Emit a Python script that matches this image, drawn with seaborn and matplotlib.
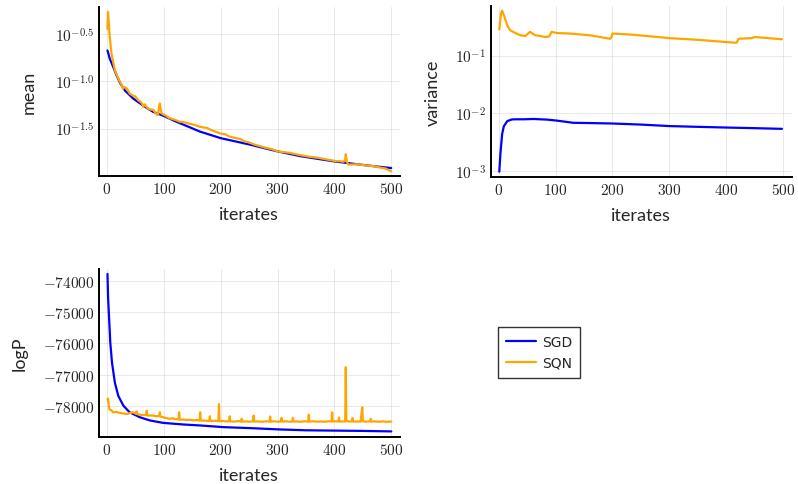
import matplotlib
matplotlib.use("Agg")
import matplotlib.pyplot as plt
import pandas as pd
import seaborn as sns
from matplotlib.ticker import FixedLocator, FuncFormatter, NullLocator

# ---- data ----
# mean, SGD
mean_sgd_it = [1, 5, 11, 17, 23, 32, 46, 64, 81, 100, 122, 146, 163, 200, 252, 300, 340, 400,
               457, 500]
mean_sgd = [0.211, 0.173, 0.1416, 0.1153, 0.0961, 0.0793, 0.0658, 0.0551, 0.0476, 0.0430,
            0.0374, 0.0326, 0.0295, 0.0251, 0.0214, 0.0182, 0.0162, 0.01426, 0.01294, 0.01213]
# mean, SQN
mean_sqn_it = [1, 2, 3, 5, 8, 14, 20, 26, 28, 30, 35, 40, 46, 50, 55, 60, 63, 64, 66, 72, 78,
               81, 86, 88, 90, 91, 93, 96, 103, 110, 118, 128, 137, 146, 155, 163, 170, 176,
               183, 190, 200, 208, 215, 225, 234, 242, 250, 260, 270, 280, 290, 300, 320, 340,
               355, 370, 385, 400, 410, 416, 419, 420, 422, 425, 440, 457, 470, 480, 490, 500]
mean_sqn = [0.356, 0.537, 0.436, 0.292, 0.195, 0.130, 0.1067, 0.0908, 0.0830, 0.0871, 0.0838,
            0.0741, 0.0702, 0.0690, 0.0630, 0.0600, 0.0560, 0.0537, 0.0570, 0.0516, 0.0500,
            0.0501, 0.0460, 0.0440, 0.0445, 0.0500, 0.0582, 0.0457, 0.0435, 0.0407, 0.0395,
            0.0374, 0.0368, 0.0355, 0.0345, 0.0331, 0.0325, 0.0322, 0.0306, 0.0295, 0.0280,
            0.0276, 0.0262, 0.0252, 0.0246, 0.0232, 0.0226, 0.0214, 0.0206, 0.0198, 0.0192,
            0.0182, 0.0176, 0.0166, 0.0160, 0.0156, 0.0150, 0.01445, 0.01430, 0.01413, 0.0150,
            0.0170, 0.0140, 0.0132, 0.0133, 0.0129, 0.0127, 0.0123, 0.0120, 0.0112]

# variance, SGD
var_sgd_it = [1, 3, 6, 9, 15, 23, 29, 44, 61, 73, 85, 102, 131, 160, 200, 250, 300, 350, 400,
              450, 498]
var_sgd = [0.00098, 0.00204, 0.00440, 0.00600, 0.00735, 0.00785, 0.00790, 0.00790, 0.00800,
           0.00790, 0.00780, 0.00750, 0.00687, 0.00680, 0.00668, 0.00640, 0.00603, 0.00585,
           0.00569, 0.00555, 0.00540]
# variance, SQN
var_sqn_it = [1, 4, 6, 10, 15, 20, 29, 38, 47, 55, 64, 73, 82, 89, 93, 102, 125, 160, 178, 196,
              198, 200, 236, 300, 353, 400, 418, 420, 422, 445, 450, 498]
var_sqn = [0.282, 0.540, 0.596, 0.468, 0.334, 0.273, 0.246, 0.224, 0.218, 0.257, 0.224, 0.218,
           0.209, 0.215, 0.257, 0.245, 0.240, 0.224, 0.209, 0.195, 0.205, 0.240, 0.229, 0.200,
           0.186, 0.171, 0.166, 0.180, 0.195, 0.200, 0.209, 0.191]

# logP, SGD
logp_sgd_it = [1, 2, 4, 6, 9, 14, 20, 29, 40, 58, 76, 99, 134, 164, 205, 252, 300, 350, 400,
               450, 500]
logp_sgd = [-73768, -74508, -75250, -75990, -76625, -77260, -77683, -78000, -78213, -78371,
            -78476, -78552, -78603, -78635, -78689, -78720, -78760, -78790, -78800, -78810,
            -78826]
# logP, SQN
logp_sqn_it = [1, 2, 4, 8, 11, 17, 23, 29, 35, 40, 46, 51, 52, 53, 58, 64, 69, 70, 71, 76, 82,
               87, 92, 93, 94, 99, 105, 111, 115, 120, 126, 127, 128, 134, 140, 146, 152, 158,
               163, 164, 165, 172, 180, 181, 182, 190, 196, 197, 198, 204, 210, 215, 216, 217,
               225, 231, 236, 237, 238, 245, 251, 257, 258, 259, 266, 272, 280, 286, 287, 288,
               295, 300, 306, 307, 308, 315, 320, 326, 327, 328, 335, 341, 348, 354, 355, 356,
               363, 370, 377, 384, 390, 395, 396, 397, 402, 407, 408, 409, 414, 419, 420, 421,
               425, 431, 432, 433, 440, 446, 449, 450, 451, 457, 463, 464, 465, 472, 478, 485,
               492, 500]
logp_sqn = [-77800, -77768, -78107, -78150, -78213, -78200, -78234, -78250, -78266, -78240,
            -78213, -78260, -78181, -78270, -78290, -78298, -78300, -78160, -78320, -78310,
            -78320, -78340, -78330, -78213, -78350, -78371, -78400, -78424, -78400, -78430,
            -78440, -78213, -78450, -78445, -78460, -78450, -78470, -78460, -78476, -78213,
            -78476, -78480, -78490, -78340, -78495, -78480, -78500, -77950, -78500, -78490,
            -78505, -78500, -78340, -78505, -78510, -78495, -78510, -78420, -78510, -78505,
            -78515, -78500, -78317, -78510, -78505, -78515, -78500, -78510, -78349, -78510,
            -78500, -78515, -78505, -78390, -78510, -78500, -78515, -78505, -78390, -78510,
            -78505, -78515, -78500, -78510, -78286, -78510, -78500, -78515, -78505, -78515,
            -78500, -78505, -78213, -78510, -78500, -78505, -78380, -78510, -78505, -78510,
            -76762, -78480, -78510, -78500, -78400, -78510, -78505, -78515, -78054, -78500,
            -78505, -78510, -78500, -78420, -78510, -78505, -78515, -78505, -78515, -78510]

BLUE = "#0000ff"
ORANGE = "#ffa500"


def frame(xs_sgd, ys_sgd, xs_sqn, ys_sqn):
    return pd.concat([
        pd.DataFrame({"it": xs_sgd, "val": ys_sgd, "method": "SGD"}),
        pd.DataFrame({"it": xs_sqn, "val": ys_sqn, "method": "SQN"}),
    ])


def math_int(v, _pos):
    return r"$%d$" % int(round(v))


def style_axis(ax, ylabel, ypad):
    ax.set_xlim(-14, 515)
    ax.xaxis.set_major_locator(FixedLocator([0, 100, 200, 300, 400, 500]))
    ax.xaxis.set_major_formatter(FuncFormatter(math_int))
    ax.set_xlabel("iterates", fontsize=13, family="Lato", labelpad=7)
    ax.set_ylabel(ylabel, fontsize=13, family="Lato", labelpad=ypad)
    ax.grid(True, color="#000000", alpha=0.1, linewidth=0.6)
    ax.yaxis.set_minor_locator(NullLocator())
    for side in ("top", "right"):
        ax.spines[side].set_visible(False)
    for side in ("left", "bottom"):
        ax.spines[side].set_linewidth(1.4)
        ax.spines[side].set_color("black")
    ax.tick_params(axis="both", direction="in", length=3, width=0.8, labelsize=11)


sns.set_style("white")
plt.rcParams["font.family"] = ["DejaVu Sans"]
plt.rcParams["mathtext.fontset"] = "cm"

fig = plt.figure(figsize=(7.98, 4.85), dpi=100)
ax1 = fig.add_axes([0.124, 0.635, 0.377, 0.348])
ax2 = fig.add_axes([0.615, 0.633, 0.377, 0.353])
ax3 = fig.add_axes([0.124, 0.097, 0.377, 0.346])
palette = {"SGD": BLUE, "SQN": ORANGE}

# mean
df = frame(mean_sgd_it, mean_sgd, mean_sqn_it, mean_sqn)
sns.lineplot(data=df, x="it", y="val", hue="method", palette=palette, ax=ax1,
             linewidth=1.6, legend=False, sort=False)
ax1.set_yscale("log")
ax1.set_ylim(10 ** -2.0, 10 ** -0.22)
ax1.yaxis.set_major_locator(FixedLocator([10 ** -0.5, 10 ** -1.0, 10 ** -1.5]))
ax1.yaxis.set_major_formatter(FuncFormatter(
    lambda v, p: {0: r"$10^{-0.5}$", 1: r"$10^{-1.0}$", 2: r"$10^{-1.5}$"}.get(p, "")))
style_axis(ax1, "mean", 13)

# variance
df = frame(var_sgd_it, var_sgd, var_sqn_it, var_sqn)
sns.lineplot(data=df, x="it", y="val", hue="method", palette=palette, ax=ax2,
             linewidth=1.6, legend=False, sort=False)
ax2.set_yscale("log")
ax2.set_ylim(10 ** -3.1, 10 ** -0.14)
ax2.yaxis.set_major_locator(FixedLocator([1e-3, 1e-2, 1e-1]))
ax2.yaxis.set_major_formatter(FuncFormatter(
    lambda v, p: {0: r"$10^{-3}$", 1: r"$10^{-2}$", 2: r"$10^{-1}$"}.get(p, "")))
style_axis(ax2, "variance", 10)

# logP
df = frame(logp_sgd_it, logp_sgd, logp_sqn_it, logp_sqn)
sns.lineplot(data=df, x="it", y="val", hue="method", palette=palette, ax=ax3,
             linewidth=1.6, legend=False, sort=False)
ax3.set_ylim(-79004, -73613)
ax3.yaxis.set_major_locator(FixedLocator([-78000, -77000, -76000, -75000, -74000]))
ax3.yaxis.set_major_formatter(FuncFormatter(math_int))
style_axis(ax3, "logP", 11)

# legend in the empty fourth slot
handles = [plt.Line2D([], [], color=BLUE, linewidth=1.6),
           plt.Line2D([], [], color=ORANGE, linewidth=1.6)]
leg = fig.legend(handles, ["SGD", "SQN"], loc="upper left",
                 bbox_to_anchor=(498 / 798, 1 - 328 / 485), borderaxespad=0,
                 fontsize=10, frameon=True, fancybox=False, edgecolor="black",
                 handlelength=2.1, handletextpad=0.45, borderpad=0.6,
                 labelspacing=0.45)
leg.get_frame().set_linewidth(1.0)

fig.savefig("out.png", dpi=100)
